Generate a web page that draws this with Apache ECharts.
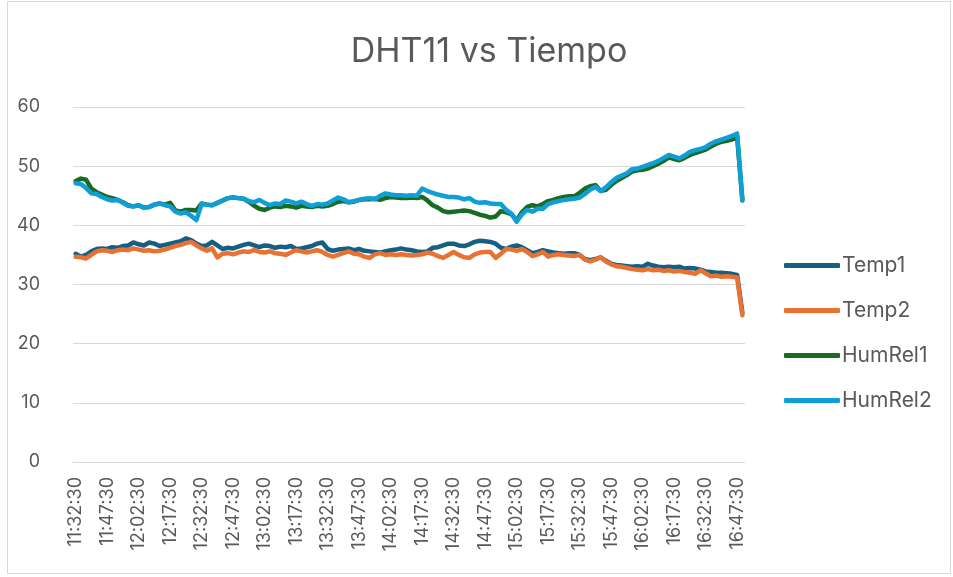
<!DOCTYPE html>
<html>
<head>
<meta charset="utf-8">
<script src="https://cdn.jsdelivr.net/npm/echarts@6/dist/echarts.min.js"></script>
<style>
  html, body { margin: 0; padding: 0; background: #fff; }
  #frame { position: absolute; left: 7px; top: 1px; width: 944px; height: 573px; border: 1px solid #d9d9d9; box-sizing: border-box; }
  #chart { position: absolute; left: 0; top: 0; width: 953px; height: 577px; }
</style>
</head>
<body>
<div id="frame"></div>
<div id="chart"></div>
<script>
// readings every 2.5 min starting 11:32:30
const startTime = '11:32:30'
const stepSeconds = 150
const pointCount = 128

const temp1 = [
  35.2, 34.7, 35.0, 35.6, 36.0, 36.1, 36.0, 36.3, 36.2, 36.5,
  36.6, 37.1, 36.8, 36.6, 37.1, 36.9, 36.5, 36.7, 36.9, 37.1,
  37.3, 37.8, 37.5, 36.9, 36.5, 36.6, 37.2, 36.6, 36.0, 36.2,
  36.1, 36.4, 36.7, 36.9, 36.6, 36.3, 36.6, 36.5, 36.2, 36.4,
  36.3, 36.5, 36.0, 36.1, 36.3, 36.5, 36.9, 37.1, 36.0, 35.7,
  35.9, 36.0, 36.1, 35.8, 36.0, 35.7, 35.6, 35.5, 35.4, 35.6,
  35.8, 35.9, 36.1, 35.9, 35.8, 35.6, 35.5, 35.6, 36.2, 36.3,
  36.6, 36.9, 36.9, 36.6, 36.5, 36.8, 37.2, 37.4, 37.3, 37.2,
  36.9, 36.2, 36.0, 36.4, 36.6, 36.3, 35.8, 35.3, 35.5, 35.8,
  35.6, 35.4, 35.3, 35.2, 35.3, 35.3, 35.0, 34.3, 34.1, 34.3,
  34.6, 34.0, 33.5, 33.3, 33.2, 33.1, 33.0, 33.1, 33.0, 33.5,
  33.2, 33.0, 32.9, 33.0, 32.9, 33.0, 32.7, 32.8, 32.7, 32.5,
  32.2, 32.1, 32.0, 32.0, 31.9, 31.8, 31.6, 25.2
]

const temp2 = [
  34.7, 34.6, 34.4, 35.0, 35.6, 35.8, 35.7, 35.5, 35.8, 35.9,
  35.8, 36.1, 35.9, 35.7, 35.8, 35.6, 35.7, 35.9, 36.2, 36.5,
  36.7, 37.0, 37.2, 36.6, 36.1, 35.7, 36.1, 34.6, 35.2, 35.3,
  35.1, 35.4, 35.6, 35.5, 35.8, 35.5, 35.4, 35.6, 35.3, 35.2,
  35.0, 35.4, 35.8, 35.6, 35.4, 35.6, 35.8, 35.5, 35.0, 34.7,
  35.0, 35.3, 35.6, 35.2, 35.1, 34.7, 34.5, 35.1, 35.3, 35.0,
  35.1, 35.0, 35.1, 35.0, 34.9, 35.0, 35.1, 35.4, 35.2, 34.8,
  34.5, 35.0, 35.5, 35.0, 34.6, 34.5, 35.1, 35.4, 35.5, 35.5,
  34.5, 35.2, 36.0, 35.9, 35.7, 36.0, 35.5, 34.8, 35.1, 35.5,
  34.7, 35.0, 35.1, 35.0, 34.9, 34.8, 35.0, 34.2, 33.9, 34.2,
  34.6, 33.9, 33.4, 33.1, 33.0, 32.8, 32.6, 32.5, 32.4, 32.6,
  32.4, 32.5, 32.3, 32.4, 32.2, 32.3, 32.1, 32.0, 31.8, 32.4,
  31.9, 31.4, 31.5, 31.3, 31.4, 31.3, 31.2, 24.8
]

const humRel1 = [
  47.5, 47.9, 47.7, 46.2, 45.6, 45.2, 44.8, 44.6, 44.3, 43.9,
  43.4, 43.2, 43.4, 43.0, 43.1, 43.5, 43.7, 43.5, 43.8, 42.5,
  42.3, 42.6, 42.6, 42.5, 43.7, 43.5, 43.4, 43.8, 44.2, 44.6,
  44.7, 44.6, 44.5, 44.0, 43.3, 42.8, 42.6, 43.0, 43.2, 43.1,
  43.3, 43.2, 43.0, 43.3, 43.2, 43.1, 43.3, 43.2, 43.3, 43.6,
  44.0, 44.1, 43.9, 44.0, 44.3, 44.4, 44.4, 44.5, 44.3, 44.6,
  44.8, 44.7, 44.6, 44.6, 44.7, 44.6, 44.8, 44.2, 43.4, 43.0,
  42.4, 42.2, 42.3, 42.4, 42.5, 42.4, 42.1, 41.8, 41.6, 41.3,
  41.5, 42.4, 42.2, 41.9, 40.8, 42.2, 43.1, 43.4, 43.2, 43.6,
  44.1, 44.3, 44.6, 44.8, 44.9, 44.9, 45.5, 46.2, 46.6, 46.8,
  45.8, 46.0, 46.8, 47.5, 48.0, 48.5, 49.1, 49.3, 49.4, 49.6,
  50.0, 50.4, 50.9, 51.5, 51.2, 51.0, 51.4, 51.9, 52.2, 52.5,
  52.8, 53.3, 53.8, 54.1, 54.3, 54.5, 55.0, 44.2
]

const humRel2 = [
  47.1, 47.0, 46.3, 45.4, 45.3, 44.8, 44.4, 44.2, 44.3, 43.8,
  43.3, 43.2, 43.4, 43.0, 43.1, 43.5, 43.7, 43.4, 43.2, 42.3,
  42.0, 42.2, 41.6, 40.9, 43.6, 43.5, 43.4, 43.8, 44.2, 44.6,
  44.7, 44.6, 44.5, 44.1, 43.9, 44.3, 43.8, 43.4, 43.7, 43.6,
  44.2, 44.0, 43.7, 44.0, 43.6, 43.3, 43.6, 43.5, 43.7, 44.2,
  44.7, 44.4, 43.9, 44.1, 44.3, 44.5, 44.6, 44.4, 45.0, 45.4,
  45.2, 45.1, 45.1, 45.0, 45.1, 45.0, 46.2, 45.8, 45.5, 45.2,
  45.0, 44.8, 44.8, 44.7, 44.4, 44.6, 44.0, 43.8, 43.9, 43.7,
  43.6, 43.6, 42.6, 42.0, 40.6, 41.8, 42.6, 42.3, 42.8, 42.8,
  43.6, 43.9, 44.1, 44.3, 44.4, 44.5, 44.7, 45.3, 46.0, 46.5,
  45.8, 46.4, 47.3, 48.0, 48.4, 48.8, 49.5, 49.6, 49.9, 50.2,
  50.5, 50.9, 51.4, 51.9, 51.6, 51.3, 51.8, 52.4, 52.7, 52.9,
  53.2, 53.8, 54.2, 54.5, 54.8, 55.1, 55.5, 44.3
]

const seriesNames = ['Temp1', 'Temp2', 'HumRel1', 'HumRel2']
const seriesColors = ['#156082', '#E97132', '#196B24', '#0F9ED5']

// time labels h:mm:ss
function buildTimes() {
  const [h, m, s] = startTime.split(':').map(Number)
  let t = h * 3600 + m * 60 + s
  const out = []
  for (let i = 0; i < pointCount; i++) {
    const hh = Math.floor(t / 3600)
    const mm = String(Math.floor((t % 3600) / 60)).padStart(2, '0')
    const ss = String(t % 60).padStart(2, '0')
    out.push(`${hh}:${mm}:${ss}`)
    t += stepSeconds
  }
  return out
}
const times = buildTimes()

const textColor = '#595959'
const fontFamily = 'Inter, "Noto Sans", sans-serif'

const chart = echarts.init(document.getElementById('chart'), null, { renderer: 'canvas' })

chart.setOption({
  animation: false,
  title: {
    text: 'DHT11 vs Tiempo',
    left: 484,
    top: 30,
    textAlign: 'center',
    textStyle: { color: textColor, fontSize: 34, fontWeight: 'normal', fontFamily }
  },
  legend: {
    orient: 'vertical',
    left: 779,
    top: 250,
    itemGap: 24,
    itemWidth: 56,
    itemHeight: 5,
    icon: 'roundRect',
    textStyle: { color: textColor, fontSize: 21, fontFamily, padding: [0, 0, 0, -3] },
    data: seriesNames
  },
  grid: { left: 73, right: 208, top: 107, bottom: 115 },
  xAxis: {
    type: 'category',
    boundaryGap: true,
    data: times,
    axisLine: { lineStyle: { color: '#d9d9d9', width: 1 } },
    axisTick: { show: false },
    axisLabel: {
      interval: 5,
      rotate: 90,
      margin: 15,
      color: textColor,
      fontSize: 18,
      fontFamily
    }
  },
  yAxis: {
    type: 'value',
    min: 0,
    max: 60,
    interval: 10,
    axisLine: { show: false },
    axisTick: { show: false },
    axisLabel: { color: textColor, fontSize: 18, margin: 33, fontFamily },
    splitLine: { lineStyle: { color: '#d9d9d9', width: 1 } }
  },
  series: [temp1, temp2, humRel1, humRel2].map((vals, k) => ({
    name: seriesNames[k],
    type: 'line',
    data: vals,
    showSymbol: false,
    symbol: 'none',
    color: seriesColors[k],
    lineStyle: { width: 4.5, color: seriesColors[k], cap: 'round', join: 'round' }
  }))
})
</script>
</body>
</html>
